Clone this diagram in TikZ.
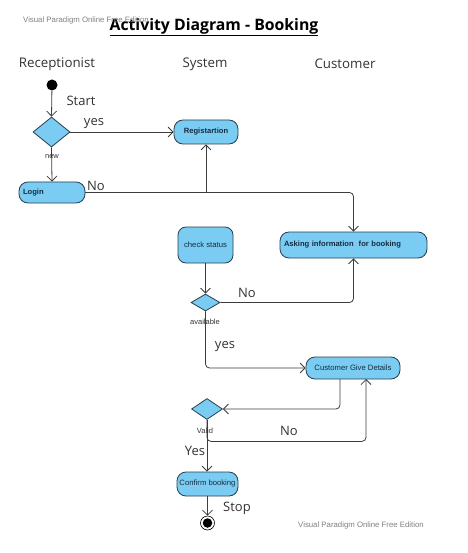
\documentclass[tikz,border=0pt]{standalone}
\usepackage{fontspec}
\setmainfont{Open Sans}
\newfontfamily\arialf{Liberation Sans}
\usetikzlibrary{shapes.geometric,arrows.meta,calc}
\definecolor{actfill}{RGB}{122,204,242}
\definecolor{actdraw}{RGB}{40,62,78}
\definecolor{acttext}{RGB}{22,44,64}
\definecolor{linec}{RGB}{60,60,60}
\definecolor{labc}{RGB}{50,50,50}
\begin{document}
\begin{tikzpicture}[x=1pt,y=1pt,
  act/.style={draw=actdraw,fill=actfill,rounded corners=9pt,line width=0.8pt,inner sep=2pt,
    text=acttext,font=\arialf\fontsize{7.7}{9}\selectfont},
  actb/.style={act,font=\arialf\bfseries\fontsize{7.6}{9}\selectfont},
  dec/.style={diamond,draw=actdraw,fill=actfill,line width=0.8pt,inner sep=0pt},
  flow/.style={draw=linec,line width=0.8pt,-{Straight Barb[length=5pt,width=10pt,line width=0.8pt]}},
  plain/.style={draw=linec,line width=0.8pt},
  lab/.style={text=labc,font=\fontsize{13}{15}\selectfont,inner sep=0pt},
  lane/.style={text=labc,font=\fontsize{13.3}{16}\selectfont,inner sep=0pt},
  small/.style={text=labc,font=\arialf\fontsize{7.5}{9}\selectfont,inner sep=0pt},
  wm/.style={text=gray,font=\arialf\fontsize{7.8}{9}\selectfont,inner sep=0pt}]
\useasboundingbox (0,0) rectangle (467,-553);
% title and watermarks
\node[inner sep=0pt,font=\bfseries\fontsize{15.8}{18}\selectfont] (title) at (214,-27) {\underline{Activity Diagram - Booking}};
\node[wm] (wm1) at (86,-20) {Visual Paradigm Online Free Edition};
\node[wm] (wm2) at (361,-525) {Visual Paradigm Online Free Edition};
% lanes
\node[lane] (l1) at (57,-64) {Receptionist};
\node[lane] (l2) at (205,-64) {System};
\node[lane] (l3) at (345,-64) {Customer};
% nodes
\node[circle,fill=black,inner sep=0pt,minimum size=11pt] (start) at (52,-85) {};
\node[dec,minimum width=37pt,minimum height=30pt] (d1) at (51.5,-132) {};
\node[actb,minimum width=64pt,minimum height=24pt] (reg) at (206,-132) {\raisebox{2pt}{Registartion}};
\node[actb,minimum height=21pt,text width=58pt,align=left,inner sep=4pt] (login) at (52,-192.5) {Login};
\node[actb,minimum height=26pt,text width=139pt,align=left,inner sep=4pt] (ask) at (353.5,-245) {\raisebox{3pt}{Asking information\ \ for booking}};
\node[act,rounded corners=8pt,minimum width=55pt,minimum height=36pt] (check) at (205.5,-245) {check status};
\node[dec,minimum width=29pt,minimum height=17pt] (d2) at (205.5,-302.5) {};
\node[act,minimum width=94pt,minimum height=22pt] (cgd) at (353,-368) {Customer Give Details};
\node[dec,minimum width=31pt,minimum height=21pt] (d3) at (207,-409) {};
\node[act,minimum width=61pt,minimum height=24pt] (conf) at (207.5,-484) {Confirm booking};
\node[circle,draw=black,fill=white,line width=0.6pt,inner sep=0pt,minimum size=14pt] (fin) at (207.5,-523) {};
\node[circle,fill=black,inner sep=0pt,minimum size=9.5pt] (finin) at (fin) {};
% junction coordinates
\coordinate (j1) at (206,-193);
\coordinate (cgdL) at (340,-379);
\coordinate (cgdR) at (366,-379);
% connectors
\draw[flow] (start) -- (d1.north);
\draw[flow] (d1.east) -- (reg.west);
\draw[flow] (d1.south) -- (login.north);
\draw[plain] (login.east) -- (login.east -| j1);
\draw[flow] (login.east -| j1) -- (reg.south);
\draw[flow,rounded corners=4pt] (login.east -| j1) -| (ask.north);
\draw[flow] (check.south) -- (d2.north);
\draw[flow,rounded corners=4pt] (d2.east) -| (ask.south);
\draw[flow,rounded corners=4pt] (d2.south) |- (cgd.west);
\draw[flow,rounded corners=4pt] (cgdL) |- (d3.east);
\draw[flow,rounded corners=4pt] (d3.south) |- ([yshift=-21.5pt]d3.south -| cgdR) -- (cgdR);
\draw[flow] (d3.south) -- (d3.south |- conf.north);
\draw[flow] (conf.south) -- (fin.north);
% labels
\node[lab] (tstart) at (81,-101) {Start};
\node[lab] (tyes1) at (94,-124) {yes};
\node[small] (tnew) at (52,-157) {new};
\node[lab] (tno1) at (96,-186) {No};
\node[lab] (tno2) at (247,-293) {No};
\node[small] (tavail) at (205,-322) {available};
\node[lab] (tyes2) at (225,-347) {yes};
\node[small] (tvalid) at (205,-431) {Valid};
\node[lab] (tno3) at (289,-431) {No};
\node[lab] (tyes3) at (195,-451) {Yes};
\node[lab] (tstop) at (237,-508) {Stop};
\end{tikzpicture}
\end{document}
